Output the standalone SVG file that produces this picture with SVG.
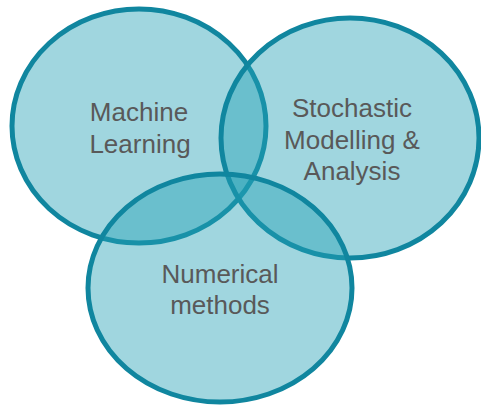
<svg xmlns="http://www.w3.org/2000/svg" width="481" height="406" viewBox="0 0 481 406">
<style>
.c{fill:#229fb4;fill-opacity:0.43;stroke:#10869f;stroke-width:5}
.t{font-family:"Liberation Sans",Arial,sans-serif;font-size:26px;fill:#595959;text-anchor:middle}
</style>
<rect width="481" height="406" fill="#ffffff"/>
<g id="machine-learning">
<ellipse class="c" cx="139" cy="126" rx="127" ry="117"/>
</g>
<g id="stochastic">
<ellipse class="c" cx="350" cy="138" rx="129" ry="120"/>
</g>
<g id="numerical">
<ellipse class="c" cx="220" cy="288" rx="132" ry="114"/>
</g>
<g id="labels">
<text class="t" x="139" y="121">Machine</text>
<text class="t" x="140" y="153">Learning</text>
<text class="t" x="352" y="117">Stochastic</text>
<text class="t" x="352" y="149">Modelling &amp;</text>
<text class="t" x="352" y="180">Analysis</text>
<text class="t" x="220" y="283">Numerical</text>
<text class="t" x="220" y="314">methods</text>
</g>
<g id="connectors"/>
</svg>
